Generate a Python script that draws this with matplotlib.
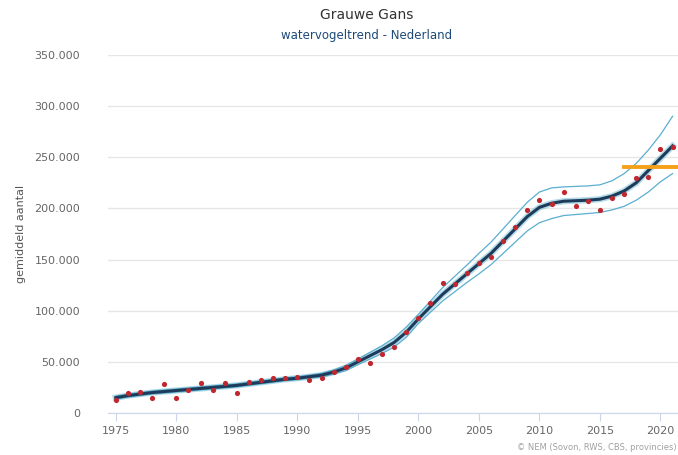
import numpy as np
import matplotlib
matplotlib.use('Agg')
import matplotlib.pyplot as plt
from matplotlib.ticker import FuncFormatter

# yearly counts (red dots)
years = list(range(1975, 2022))
counts = [13000, 20000, 21000, 15000, 28000, 15000, 22000, 29000, 22000, 29000,
          20000, 30000, 32000, 34000, 34000, 35000, 32000, 34000, 40000, 45000,
          53000, 49000, 58000, 65000, 79000, 93000, 108000, 127000, 126000, 137000,
          147000, 152000, 168000, 182000, 198000, 208000, 204000, 216000, 202000, 207000,
          198000, 210000, 214000, 230000, 231000, 258000, 260000]

# trend with confidence band
trend = [15000, 17000, 18500, 20000, 21000, 22000, 23000, 24000, 25000, 26000,
         27000, 28500, 30000, 31500, 33000, 34000, 35500, 37000, 40000, 44000,
         50000, 56000, 62000, 69000, 79000, 92000, 104000, 116000, 126000, 136000,
         146000, 156000, 168000, 180000, 192000, 201000, 205000, 207000, 207500, 208000,
         209000, 212000, 217000, 225000, 237000, 249000, 261000]
upper = [16500, 18500, 20000, 21500, 22500, 23500, 24500, 25500, 26500, 27500,
         28500, 30000, 31500, 33000, 34500, 35500, 37000, 38800, 42000, 46500,
         52800, 59300, 65800, 73500, 84000, 96500, 109500, 122500, 133500, 144500,
         156000, 167000, 180000, 193000, 206000, 216000, 220000, 221000, 221500, 222000,
         223000, 227000, 234000, 244000, 257000, 272000, 290000]
lower = [13500, 15500, 17000, 18500, 19500, 20500, 21500, 22500, 23500, 24500,
         25500, 27000, 28500, 30000, 31500, 32500, 34000, 35200, 38000, 41500,
         47200, 52700, 58200, 64500, 74000, 87500, 98500, 109500, 118500, 127500,
         136000, 145000, 156000, 167000, 178000, 186000, 190000, 193000, 194000, 195000,
         196000, 198500, 202000, 208000, 216000, 226000, 234000]

# reference level (orange)
ref_years = [2017, 2021.45]
ref_level = [240000, 240000]

fig = plt.figure(figsize=(6.78, 4.55), dpi=100)
ax = fig.add_axes([0.159, 0.0923, 0.841, 0.787])

ax.plot(years, upper, color='#5aaed0', lw=0.9, zorder=2)
ax.plot(years, lower, color='#5aaed0', lw=0.9, zorder=2)
ax.plot(years, trend, color='#5ab0cc', lw=4.5, alpha=0.45, zorder=3)
ax.plot(years, trend, color='#1d3b5a', lw=2.2, zorder=4)
ax.scatter(years, counts, s=14, color='#c0282f', zorder=5, linewidths=0)
ax.plot(ref_years, ref_level, color='#f5a01a', lw=2.8, zorder=6)

ax.set_xlim(1974.34, 2021.45)
ax.set_ylim(0, 350000)
ax.set_yticks(np.arange(0, 350001, 50000))
ax.set_xticks(np.arange(1975, 2021, 5))
ax.yaxis.set_major_formatter(FuncFormatter(lambda v, p: f'{int(v):,}'.replace(',', '.')))
ax.grid(axis='y', color='#e6e6e6', lw=1)
ax.set_axisbelow(True)
for s in ['top', 'right', 'left']:
    ax.spines[s].set_visible(False)
ax.spines['bottom'].set_color('#ccd6eb')
ax.tick_params(axis='y', length=0, pad=20, labelsize=8, labelcolor='#666666')
ax.tick_params(axis='x', length=6, color='#ccd6eb', labelsize=8, labelcolor='#666666', pad=3)
ax.set_ylabel('gemiddeld aantal', fontsize=8, color='#555555', labelpad=6)

fig.text(0.5405, 0.967, 'Grauwe Gans', ha='center', va='center', fontsize=10, color='#333333')
fig.text(0.5405, 0.921, 'watervogeltrend - Nederland', ha='center', va='center', fontsize=8.5, color='#1d4a78')
fig.text(0.998, 0.017, '© NEM (Sovon, RWS, CBS, provincies)', ha='right', va='center', fontsize=6, color='#a0a0a0')

fig.savefig('out.png', dpi=100)
